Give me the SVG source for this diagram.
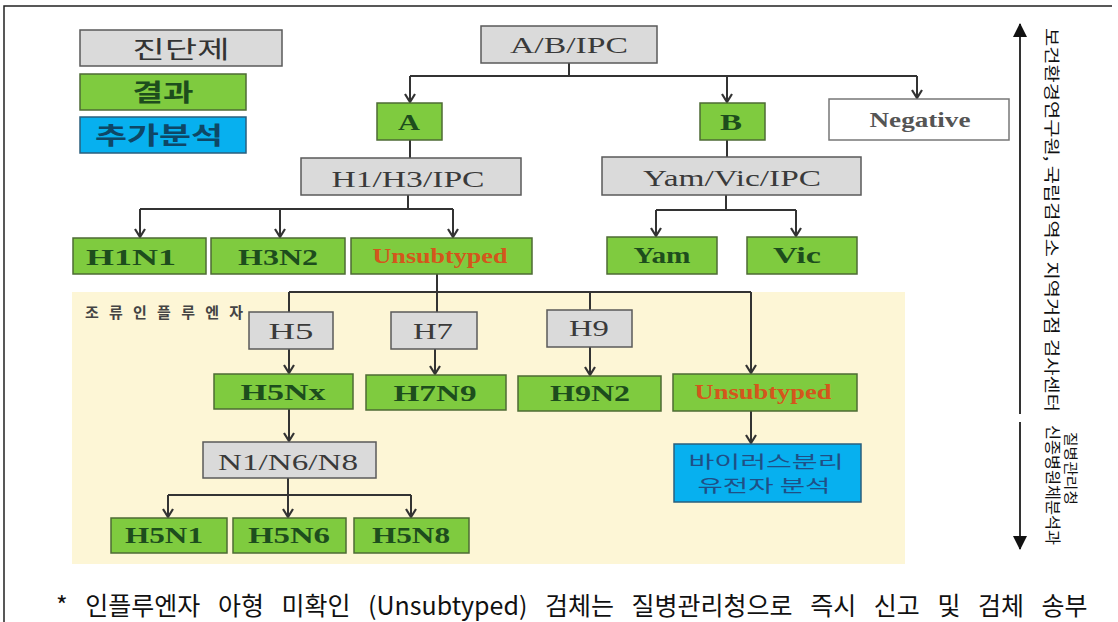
<svg xmlns="http://www.w3.org/2000/svg" width="1118" height="622" viewBox="0 0 1118 622">
<style>
.gray{fill:#dadada;stroke:#5a5a5a;stroke-width:1.5}
.green{fill:#7fcb3f;stroke:#4d6b35;stroke-width:1.5}
.blue{fill:#07b0ef;stroke:#2a5f7e;stroke-width:1.5}
.white{fill:#ffffff;stroke:#777;stroke-width:1.5}
.ts{font-family:"Liberation Serif","Times New Roman",serif;text-anchor:middle}
.tg{fill:#3a3a3a;font-size:23px}
.tn{fill:#1d4d1d;font-size:23px;font-weight:bold}
.to{fill:#d4561c;font-size:20px;font-weight:bold}
.kr{font-family:"Noto Sans CJK KR","Noto Sans",sans-serif;text-anchor:middle}
.conn path{fill:none;stroke:#333;stroke-width:2}
.conn .arr{marker-end:url(#chev)}
</style>
<defs>
<marker id="chev" viewBox="0 0 12 12" refX="10" refY="6" markerWidth="12" markerHeight="12" markerUnits="userSpaceOnUse" orient="auto">
<path d="M2,1 L10,6 L2,11" fill="none" stroke="#333" stroke-width="2.2"/>
</marker>
<marker id="tri" viewBox="0 0 14 14" refX="13" refY="7" markerWidth="14" markerHeight="14" markerUnits="userSpaceOnUse" orient="auto-start-reverse">
<path d="M0,0 L14,7 L0,14 Z" fill="#111"/>
</marker>
</defs>
<rect x="0" y="0" width="1118" height="622" fill="#ffffff"/>
<path d="M4,622 V6 H1112" fill="none" stroke="#222" stroke-width="1.5"/>
<rect x="72" y="292" width="833" height="272" fill="#fdf6d6"/>

<g id="legend">
<rect class="gray" x="80" y="30" width="202" height="36"/>
<text class="kr" x="181" y="58" font-size="24" fill="#333" textLength="97" lengthAdjust="spacingAndGlyphs">진단제</text>
<rect class="green" x="80" y="74" width="166" height="36"/>
<text class="kr" x="163" y="101" font-size="24" font-weight="bold" fill="#1d4d1d" textLength="61" lengthAdjust="spacingAndGlyphs">결과</text>
<rect class="blue" x="80" y="117" width="166" height="36"/>
<text class="kr" x="159" y="144" font-size="24" font-weight="bold" fill="#0e4766" textLength="128" lengthAdjust="spacingAndGlyphs">추가분석</text>
</g>

<g class="conn" id="connectors">
<path d="M569,63 V76 M410,76 H917 M410,140 V158 M727,140 V157"/>
<path class="arr" d="M410,76 V102"/>
<path class="arr" d="M727,76 V102"/>
<path class="arr" d="M917,76 V98"/>
<path d="M408,195 V209 M140,209 H453"/>
<path class="arr" d="M140,209 V237"/>
<path class="arr" d="M280,209 V237"/>
<path class="arr" d="M453,209 V237"/>
<path d="M726,195 V210 M656,210 H796"/>
<path class="arr" d="M656,210 V236"/>
<path class="arr" d="M796,210 V236"/>
<path d="M437,274 V312 M289,292 H751 M289,292 V312 M590,292 V310"/>
<path class="arr" d="M751,292 V373"/>
<path class="arr" d="M289,349 V373"/>
<path class="arr" d="M435,349 V374"/>
<path class="arr" d="M590,347 V375"/>
<path class="arr" d="M751,411 V443"/>
<path class="arr" d="M289,409 V441"/>
<path d="M288,478 V495 M168,495 H411"/>
<path class="arr" d="M288,495 V517"/>
<path class="arr" d="M168,495 V517"/>
<path class="arr" d="M411,495 V517"/>
<path d="M1020,24 V414 M1020,422 V549" stroke="#111" stroke-width="3" marker-start="url(#tri)" marker-end="url(#tri)"/>
</g>

<g id="n-abipc"><rect class="gray" x="481" y="26" width="176" height="37"/><text class="ts tg" x="569" y="53" textLength="118" lengthAdjust="spacingAndGlyphs">A/B/IPC</text></g>
<g id="n-a"><rect class="green" x="377" y="103" width="65" height="37"/><text class="ts tn" x="409" y="130" textLength="22" lengthAdjust="spacingAndGlyphs">A</text></g>
<g id="n-b"><rect class="green" x="700" y="103" width="65" height="37"/><text class="ts tn" x="731" y="130" textLength="22" lengthAdjust="spacingAndGlyphs">B</text></g>
<g id="n-negative"><rect class="white" x="829" y="99" width="180" height="41"/><text class="ts" x="920" y="127" font-size="21" font-weight="bold" fill="#555" textLength="101" lengthAdjust="spacingAndGlyphs">Negative</text></g>
<g id="n-h1h3ipc"><rect class="gray" x="301" y="158" width="220" height="37"/><text class="ts tg" x="408" y="187" textLength="153" lengthAdjust="spacingAndGlyphs">H1/H3/IPC</text></g>
<g id="n-yamvicipc"><rect class="gray" x="602" y="157" width="259" height="38"/><text class="ts tg" x="732" y="186" textLength="178" lengthAdjust="spacingAndGlyphs">Yam/Vic/IPC</text></g>
<g id="n-h1n1"><rect class="green" x="73" y="238" width="133" height="36"/><text class="ts tn" x="131" y="265" textLength="90" lengthAdjust="spacingAndGlyphs">H1N1</text></g>
<g id="n-h3n2"><rect class="green" x="211" y="238" width="134" height="36"/><text class="ts tn" x="278" y="265" textLength="80" lengthAdjust="spacingAndGlyphs">H3N2</text></g>
<g id="n-unsub1"><rect class="green" x="351" y="238" width="181" height="36"/><text class="ts to" x="440" y="263" textLength="135" lengthAdjust="spacingAndGlyphs">Unsubtyped</text></g>
<g id="n-yam"><rect class="green" x="607" y="237" width="110" height="37"/><text class="ts tn" x="662" y="263" textLength="57" lengthAdjust="spacingAndGlyphs">Yam</text></g>
<g id="n-vic"><rect class="green" x="747" y="237" width="110" height="37"/><text class="ts tn" x="797" y="263" textLength="48" lengthAdjust="spacingAndGlyphs">Vic</text></g>

<text x="85" y="318" font-family="'Noto Sans CJK KR','Noto Sans',sans-serif" font-size="15" font-weight="bold" fill="#444" textLength="158" lengthAdjust="spacing">조류인플루엔자</text>

<g id="n-h5"><rect class="gray" x="249" y="312" width="84" height="37"/><text class="ts tg" x="291" y="339" textLength="45" lengthAdjust="spacingAndGlyphs">H5</text></g>
<g id="n-h7"><rect class="gray" x="391" y="312" width="86" height="37"/><text class="ts tg" x="433" y="339" textLength="40" lengthAdjust="spacingAndGlyphs">H7</text></g>
<g id="n-h9"><rect class="gray" x="547" y="310" width="85" height="37"/><text class="ts tg" x="589" y="336" textLength="40" lengthAdjust="spacingAndGlyphs">H9</text></g>
<g id="n-h5nx"><rect class="green" x="214" y="374" width="139" height="35"/><text class="ts tn" x="283" y="400" font-size="21" textLength="85" lengthAdjust="spacingAndGlyphs">H5Nx</text></g>
<g id="n-h7n9"><rect class="green" x="366" y="375" width="140" height="35"/><text class="ts tn" x="435" y="401" font-size="21" textLength="83" lengthAdjust="spacingAndGlyphs">H7N9</text></g>
<g id="n-h9n2"><rect class="green" x="518" y="376" width="143" height="35"/><text class="ts tn" x="590" y="401" font-size="21" textLength="80" lengthAdjust="spacingAndGlyphs">H9N2</text></g>
<g id="n-unsub2"><rect class="green" x="673" y="374" width="184" height="37"/><text class="ts to" x="763" y="399" textLength="137" lengthAdjust="spacingAndGlyphs">Unsubtyped</text></g>
<g id="n-virus"><rect class="blue" x="674" y="444" width="187" height="58"/>
<text class="kr" x="766" y="468" font-size="17" fill="#1f4f86" textLength="155" lengthAdjust="spacingAndGlyphs">바이러스분리</text>
<text class="kr" x="764" y="492" font-size="17" fill="#1f4f86" textLength="133" lengthAdjust="spacingAndGlyphs">유전자 분석</text></g>
<g id="n-n1n6n8"><rect class="gray" x="203" y="442" width="173" height="36"/><text class="ts tg" x="288" y="470" textLength="140" lengthAdjust="spacingAndGlyphs">N1/N6/N8</text></g>
<g id="n-h5n1"><rect class="green" x="111" y="518" width="116" height="35"/><text class="ts tn" x="164" y="543" font-size="21" textLength="78" lengthAdjust="spacingAndGlyphs">H5N1</text></g>
<g id="n-h5n6"><rect class="green" x="233" y="518" width="113" height="35"/><text class="ts tn" x="289" y="543" font-size="21" textLength="82" lengthAdjust="spacingAndGlyphs">H5N6</text></g>
<g id="n-h5n8"><rect class="green" x="354" y="518" width="115" height="35"/><text class="ts tn" x="411" y="543" font-size="21" textLength="78" lengthAdjust="spacingAndGlyphs">H5N8</text></g>

<g id="side-labels" font-family="'Noto Sans CJK KR','Noto Sans',sans-serif" fill="#111">
<text transform="translate(1046,28) rotate(90)" font-size="16" textLength="384" lengthAdjust="spacingAndGlyphs">보건환경연구원, 국립검역소 지역거점 검사센터</text>
<text transform="translate(1047,425) rotate(90)" font-size="16" textLength="120" lengthAdjust="spacingAndGlyphs">신종병원체분석과</text>
<text transform="translate(1066,432) rotate(90)" font-size="14" textLength="73" lengthAdjust="spacingAndGlyphs">질병관리청</text>
</g>

<text x="56" y="615" font-family="'Noto Sans CJK KR','Noto Sans',sans-serif" font-size="25" fill="#111" word-spacing="12">* 인플루엔자 아형 미확인 (Unsubtyped) 검체는 질병관리청으로 즉시 신고 및 검체 송부</text>
</svg>
